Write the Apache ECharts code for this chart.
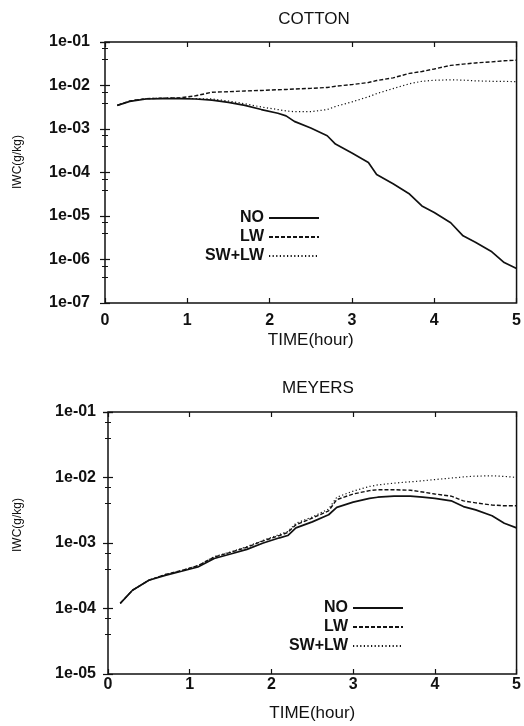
<!DOCTYPE html>
<html>
<head>
<meta charset="utf-8">
<script src="https://cdn.jsdelivr.net/npm/echarts@6/dist/echarts.min.js"></script>
<style>
  html, body { margin: 0; padding: 0; background: #fff; }
  #chart { width: 524px; height: 726px; }
</style>
</head>
<body>
<div id="chart"></div>
<script>
// time (hour) shared by all curves
var time = [0.15, 0.3, 0.5, 0.7, 0.9, 1.1, 1.3, 1.5, 1.7, 1.9, 2.1, 2.2, 2.3, 2.5, 2.7,
  2.8, 3.0, 3.2, 3.3, 3.5, 3.7, 3.85, 4.0, 4.2, 4.35, 4.5, 4.7, 4.85, 5.0]

// COTTON, IWC (g/kg)
var cottonNo = [3.5e-3, 4.3e-3, 4.9e-3, 5.0e-3, 5.0e-3, 4.9e-3, 4.6e-3, 4.1e-3, 3.5e-3, 2.8e-3,
  2.3e-3, 2.0e-3, 1.5e-3, 1.05e-3, 7.0e-4, 4.5e-4, 2.8e-4, 1.7e-4, 9e-5, 5.5e-5, 3.2e-5, 1.7e-5,
  1.2e-5, 7e-6, 3.5e-6, 2.5e-6, 1.5e-6, 8.5e-7, 6.2e-7]
var cottonLw = [3.5e-3, 4.4e-3, 5.0e-3, 5.1e-3, 5.2e-3, 5.8e-3, 7.0e-3, 7.2e-3, 7.5e-3, 7.7e-3,
  8.0e-3, 8.1e-3, 8.3e-3, 8.6e-3, 9.0e-3, 9.6e-3, 1.05e-2, 1.17e-2, 1.3e-2, 1.5e-2, 1.9e-2, 2.1e-2,
  2.4e-2, 2.9e-2, 3.1e-2, 3.3e-2, 3.5e-2, 3.7e-2, 3.8e-2]
var cottonSwLw = [3.5e-3, 4.4e-3, 5.0e-3, 5.1e-3, 5.1e-3, 5.0e-3, 4.9e-3, 4.4e-3, 3.8e-3, 3.2e-3,
  2.8e-3, 2.6e-3, 2.5e-3, 2.5e-3, 2.8e-3, 3.3e-3, 4.2e-3, 5.5e-3, 6.5e-3, 8.5e-3, 1.1e-2, 1.25e-2,
  1.32e-2, 1.35e-2, 1.33e-2, 1.28e-2, 1.25e-2, 1.24e-2, 1.23e-2]

// MEYERS, IWC (g/kg)
var meyersNo = [1.2e-4, 1.9e-4, 2.7e-4, 3.2e-4, 3.7e-4, 4.3e-4, 5.8e-4, 6.8e-4, 8.0e-4, 1.0e-3,
  1.2e-3, 1.3e-3, 1.7e-3, 2.1e-3, 2.7e-3, 3.5e-3, 4.2e-3, 4.8e-3, 5.0e-3, 5.2e-3, 5.2e-3, 5.0e-3,
  4.8e-3, 4.4e-3, 3.6e-3, 3.2e-3, 2.6e-3, 2.0e-3, 1.7e-3]
var meyersLw = [1.2e-4, 1.9e-4, 2.7e-4, 3.3e-4, 3.8e-4, 4.5e-4, 6.1e-4, 7.2e-4, 8.6e-4, 1.08e-3,
  1.3e-3, 1.45e-3, 1.9e-3, 2.4e-3, 3.1e-3, 4.6e-3, 5.6e-3, 6.3e-3, 6.5e-3, 6.5e-3, 6.4e-3, 6.0e-3,
  5.6e-3, 5.2e-3, 4.4e-3, 4.1e-3, 3.8e-3, 3.7e-3, 3.7e-3]
var meyersSwLw = [1.2e-4, 1.9e-4, 2.7e-4, 3.3e-4, 3.8e-4, 4.5e-4, 6.2e-4, 7.3e-4, 8.8e-4, 1.1e-3,
  1.35e-3, 1.5e-3, 2.0e-3, 2.5e-3, 3.3e-3, 5.0e-3, 6.2e-3, 7.3e-3, 7.7e-3, 8.2e-3, 8.6e-3, 8.9e-3,
  9.3e-3, 9.8e-3, 1.02e-2, 1.05e-2, 1.06e-2, 1.04e-2, 1.0e-2]

var seriesNames = ['NO', 'LW', 'SW+LW']
var titles = ['COTTON', 'MEYERS']

var FONT = 'Liberation Sans, Arial, sans-serif'
var INK = '#111'

function pairs(vals) {
  return time.map(function (t, i) { return [t, vals[i]] })
}

function expLabel(v) {
  var e = Math.round(Math.log10(v))
  return '1e' + (e < 0 ? '-' : '+') + String(Math.abs(e)).padStart(2, '0')
}

var lineStyles = [
  { color: INK, width: 1.7, type: 'solid' },
  { color: INK, width: 1.4, type: [4, 2] },
  { color: INK, width: 1.2, type: [1.2, 2.4] }
]

function xAxes(gridIndex, labelMargin, nameGap) {
  var base = {
    gridIndex: gridIndex, type: 'value', min: 0, max: 5, interval: 1,
    axisLine: { show: false },
    axisTick: { show: true, inside: true, length: 5, lineStyle: { color: INK, width: 1.2 } },
    splitLine: { show: false }
  }
  return [
    Object.assign({}, base, {
      position: 'bottom',
      name: 'TIME(hour)', nameLocation: 'middle', nameGap: nameGap,
      nameTextStyle: { fontFamily: FONT, fontSize: 17, color: INK },
      axisLabel: { fontFamily: FONT, fontSize: 16, fontWeight: 'bold', color: INK, margin: labelMargin }
    }),
    Object.assign({}, base, { position: 'top', axisLabel: { show: false } })
  ]
}

function yAxes(gridIndex, min, labelMargin) {
  var base = {
    gridIndex: gridIndex, type: 'log', logBase: 10, min: min, max: 1e-1, interval: 1,
    axisLine: { show: false },
    axisTick: { show: true, inside: true, length: 5, lineStyle: { color: INK, width: 1.2 } },
    minorTick: { show: true, splitNumber: 3, length: 3, lineStyle: { color: INK, width: 1 } },
    splitLine: { show: false }
  }
  return [
    Object.assign({}, base, {
      position: 'left',
      axisLabel: { fontFamily: FONT, fontSize: 16, fontWeight: 'bold', color: INK, margin: labelMargin, formatter: expLabel }
    }),
    Object.assign({}, base, { position: 'right', axisLabel: { show: false } })
  ]
}

function makeSeries(gridIndex, datasets) {
  return datasets.map(function (vals, i) {
    return {
      name: seriesNames[i],
      type: 'line',
      xAxisIndex: gridIndex * 2,
      yAxisIndex: gridIndex * 2,
      data: pairs(vals),
      symbol: 'none',
      showSymbol: false,
      lineStyle: lineStyles[i],
      itemStyle: { color: INK },
      animation: false
    }
  })
}

function legend(right, top, seriesIndex) {
  return {
    data: seriesNames.slice(),
    seriesIndex: seriesIndex,
    orient: 'vertical',
    align: 'right',
    right: right,
    top: top,
    padding: 0,
    itemWidth: 50,
    itemHeight: 14,
    itemGap: 3,
    selectedMode: false,
    // keep only the line sample, hide the round marker
    itemStyle: { opacity: 0 },
    textStyle: { fontFamily: FONT, fontSize: 16, fontWeight: 'bold', color: INK, lineHeight: 14 }
  }
}

function yName(x, y) {
  return {
    type: 'text', x: x, y: y, rotation: Math.PI / 2,
    style: { text: 'IWC(g/kg)', fontFamily: FONT, fontSize: 12, fill: INK, align: 'center', verticalAlign: 'middle' }
  }
}

var chart = echarts.init(document.getElementById('chart'))

var option = {
  backgroundColor: '#fff',
  animation: false,
  title: [
    { text: titles[0], left: 309, top: 6, textAlign: 'center',
      textStyle: { fontFamily: FONT, fontSize: 17, fontWeight: 'normal', color: INK } },
    { text: titles[1], left: 313, top: 375, textAlign: 'center',
      textStyle: { fontFamily: FONT, fontSize: 17, fontWeight: 'normal', color: INK } }
  ],
  grid: [
    { left: 105, top: 42, width: 413, height: 261, show: true, borderColor: INK, borderWidth: 1.5, backgroundColor: 'transparent' },
    { left: 108, top: 412, width: 413, height: 262, show: true, borderColor: INK, borderWidth: 1.5, backgroundColor: 'transparent' }
  ],
  legend: [
    legend(204, 210, [0, 1, 2]),
    legend(120, 600, [3, 4, 5])
  ],
  graphic: [yName(18, 162), yName(18, 525)],
  xAxis: xAxes(0, 10, 29).concat(xAxes(1, 3, 31)),
  yAxis: yAxes(0, 1e-7, 15).concat(yAxes(1, 1e-5, 12)),
  series: makeSeries(0, [cottonNo, cottonLw, cottonSwLw])
    .concat(makeSeries(1, [meyersNo, meyersLw, meyersSwLw]))
}

chart.setOption(option)
</script>
</body>
</html>
